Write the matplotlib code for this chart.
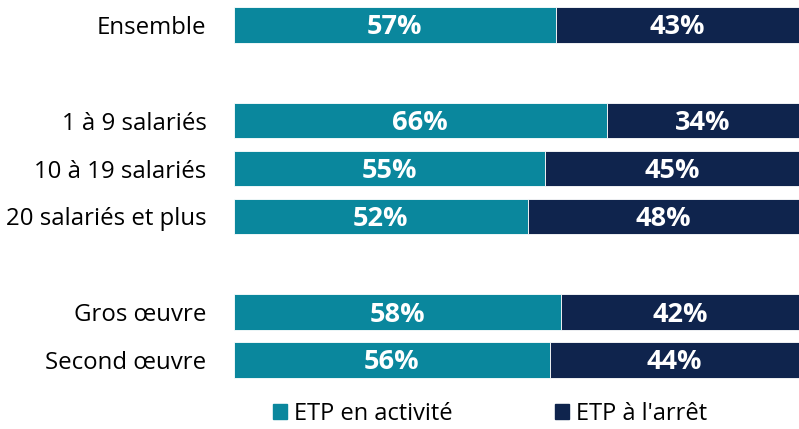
import matplotlib
matplotlib.use("Agg")
import matplotlib.pyplot as plt
from matplotlib.patches import Patch

plt.rcParams['font.family'] = ['Open Sans', 'DejaVu Sans']

categories = ["Ensemble", "1 à 9 salariés", "10 à 19 salariés", "20 salariés et plus",
              "Gros œuvre", "Second œuvre"]
positions = [0, 2, 3, 4, 6, 7]
activite = [57, 66, 55, 52, 58, 56]
arret = [43, 34, 45, 48, 42, 44]
series_names = ["ETP en activité", "ETP à l'arrêt"]
c1, c2 = "#0a879d", "#0f244d"

fig = plt.figure(figsize=(7.99, 4.29), dpi=100)
ax = fig.add_axes([233.5/799, 1-384/429, (799-233.5)/799, 383/429])
h = 0.74
ax.barh(positions, activite, height=h, color=c1, edgecolor="white", linewidth=0.6)
ax.barh(positions, arret, left=activite, height=h, color=c2, edgecolor="white", linewidth=0.6)
for p, a, b in zip(positions, activite, arret):
    ax.text(a/2, p + 0.05, f"{a}%", ha="center", va="center", color="white",
            fontsize=19.5, fontweight="bold")
    ax.text(a + b/2, p + 0.05, f"{b}%", ha="center", va="center", color="white",
            fontsize=19.5, fontweight="bold")
ax.set_xlim(0, 100)
ax.set_ylim(7.5, -0.5)
ax.set_yticks(positions)
ax.set_yticklabels(categories, fontsize=17.3)
ax.tick_params(axis="y", length=0, pad=19.5)
ax.set_xticks([])
for s in ax.spines.values():
    s.set_visible(False)

handles = [Patch(color=c1, label=series_names[0]), Patch(color=c2, label=series_names[1])]
fig.legend(handles=handles, loc="center", bbox_to_anchor=(490/799, 1-414/429), ncol=2,
           frameon=False, fontsize=17, handlelength=0.6, handleheight=0.6,
           handletextpad=0.3, columnspacing=4.3)
fig.savefig("out.png", dpi=100)
